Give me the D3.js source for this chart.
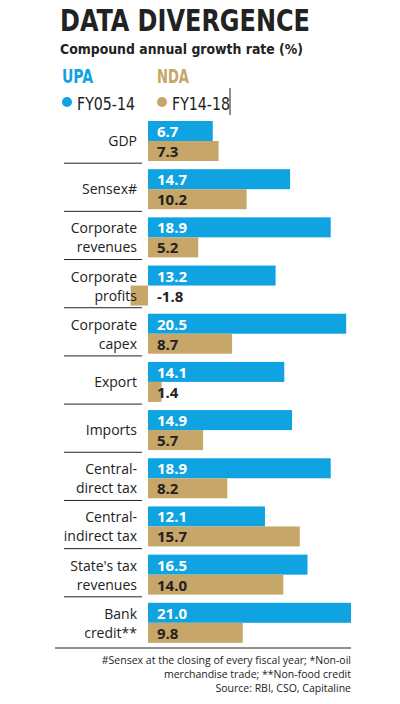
<!DOCTYPE html>
<html><head><meta charset="utf-8">
<script src="https://cdn.jsdelivr.net/npm/d3@7"></script>
<style>body{margin:0;background:#fff}</style>
</head><body>
<svg id="c" width="400" height="704"></svg>
<script>
var categories=[["GDP"],["Sensex#"],["Corporate","revenues"],["Corporate","profits"],["Corporate","capex"],["Export"],["Imports"],["Central-","direct tax"],["Central-","indirect tax"],["State's tax","revenues"],["Bank","credit**"]];
var upa=[6.7,14.7,18.9,13.2,20.5,14.1,14.9,18.9,12.1,16.5,21.0];
var nda=[7.3,10.2,5.2,-1.8,8.7,1.4,5.7,8.2,15.7,14.0,9.8];
var footnotes=["#Sensex at the closing of every fiscal year; *Non-oil","merchandise trade; **Non-food credit","Source: RBI, CSO, Capitaline"];

var blue="#0fa3e2",tan="#c6a669",cond="'DejaVu Sans Condensed','DejaVu Sans',sans-serif";
var svg=d3.select('#c');
svg.append('text').attr('x',60).attr('y',31).attr('font-family',cond).attr('font-weight','bold')
  .attr('font-size',30).attr('textLength',250).attr('lengthAdjust','spacingAndGlyphs').attr('fill','#222').text('DATA DIVERGENCE');
svg.append('text').attr('x',60).attr('y',54).attr('font-family',"'DejaVu Sans',sans-serif").attr('font-weight','bold')
  .attr('font-size',14).attr('textLength',243).attr('lengthAdjust','spacingAndGlyphs').attr('fill','#222').text('Compound annual growth rate (%)');
[[62,'UPA',blue,'FY05-14'],[157,'NDA',tan,'FY14-18']].forEach(function(l){
  svg.append('text').attr('x',l[0]).attr('y',83).attr('font-family',cond).attr('font-weight','bold').attr('font-size',19)
    .attr('textLength',l[1]=='UPA'?31:32).attr('lengthAdjust','spacingAndGlyphs').attr('fill',l[2]).text(l[1]);
  svg.append('circle').attr('cx',l[0]+5).attr('cy',102).attr('r',5).attr('fill',l[2]);
  svg.append('text').attr('x',l[0]+15).attr('y',110).attr('font-family',cond).attr('font-size',18)
    .attr('textLength',58).attr('lengthAdjust','spacingAndGlyphs').attr('fill','#222').text(l[3]);
});
svg.append('line').attr('x1',230).attr('x2',230).attr('y1',88).attr('y2',115).attr('stroke','#222');

var x=d3.scaleLinear().domain([0,21]).range([148,351]);
var y=d3.scaleBand().domain(d3.range(categories.length)).range([121,651]);
var bh=20;
var g=svg.selectAll('g.row').data(categories).enter().append('g').attr('transform',function(d,i){return 'translate(0,'+y(i)+')';});
g.append('rect').attr('x',x(0)).attr('y',0).attr('height',bh)
  .attr('width',function(d,i){return x(upa[i])-x(0);}).attr('fill',blue);
g.append('rect').attr('x',function(d,i){return Math.min(x(0),x(nda[i]));}).attr('y',bh).attr('height',bh)
  .attr('width',function(d,i){return Math.abs(x(nda[i])-x(0));}).attr('fill',tan);
g.append('text').attr('x',157).attr('y',16).attr('font-family',"'Open Sans',sans-serif").attr('font-weight','bold')
  .attr('font-size',15).attr('fill','#fff').text(function(d,i){return upa[i].toFixed(1);});
g.append('text').attr('x',157).attr('y',36).attr('font-family',"'Open Sans',sans-serif").attr('font-weight','bold')
  .attr('font-size',15).attr('fill','#222').text(function(d,i){return nda[i].toFixed(1);});
g.append('text').attr('text-anchor','end').attr('x',137).attr('font-family',"'Open Sans',sans-serif").attr('font-size',14)
  .attr('fill','#222').each(function(d){
    var t=d3.select(this);
    d.forEach(function(s,k){t.append('tspan').attr('x',137).attr('y',d.length==1?25:(16+k*19)).text(s);});
  });
g.filter(function(d,i){return i<categories.length-1;}).append('line').attr('x1',64).attr('x2',142).attr('y1',y.step()-6).attr('y2',y.step()-6)
  .attr('stroke','#222').attr('stroke-width',1);
svg.append('line').attr('x1',55).attr('x2',351).attr('y1',648).attr('y2',648).attr('stroke','#222');
footnotes.forEach(function(f,i){
  svg.append('text').attr('text-anchor','end').attr('x',351).attr('y',664+i*14).attr('font-family',"'Open Sans',sans-serif")
    .attr('font-size',10.5).attr('fill','#222').text(f);
});
</script>
</body></html>
